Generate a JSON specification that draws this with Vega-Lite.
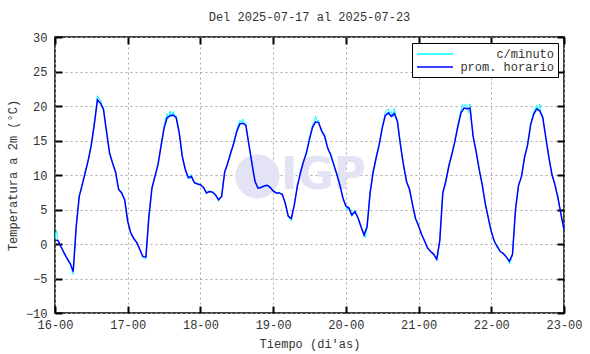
{
  "$schema": "https://vega.github.io/schema/vega-lite/v6.json",
  "width": 509,
  "height": 276,
  "autosize": {"type": "none"},
  "padding": {"left": 55, "top": 37, "right": 26, "bottom": 41},
  "background": "white",
  "title": {"text": "Del 2025-07-17 al 2025-07-23", "font": "Liberation Mono", "fontSize": 12, "fontWeight": "normal", "color": "#333333", "offset": 7},
  "config": {
    "font": "Liberation Mono",
    "view": {"stroke": "#000000", "strokeWidth": 1.5},
    "axis": {"labelFont": "Liberation Mono", "labelFontSize": 12, "labelColor": "#333333", "titleFont": "Liberation Mono", "titleFontSize": 12, "titleFontWeight": "normal", "titleColor": "#333333", "labelFlush": false, "labelOverlap": false, "domain": false},
    "legend": {"orient": "top-right", "offset": 6, "strokeColor": "#000000", "strokeWidth": 1, "fillColor": "#ffffff", "padding": 4, "labelFont": "Liberation Mono", "labelFontSize": 12, "labelColor": "#333333", "symbolType": "M-1,0H5", "symbolSize": 144, "symbolStrokeWidth": 1.5, "labelAlign": "right", "labelOffset": 124, "rowPadding": 0, "title": null}
  },
  "datasets": {
    "hr": [
      {"h":0,"v":0.6},{"h":1,"v":0.5},{"h":2,"v":-0.4},{"h":3,"v":-1.3},{"h":4,"v":-2.1},{"h":5,"v":-2.8},{"h":6,"v":-4.0},{"h":7,"v":2.5},{"h":8,"v":6.9},{"h":9,"v":8.6},{"h":10,"v":10.4},{"h":11,"v":12.2},{"h":12,"v":14.4},{"h":13,"v":17.4},{"h":14,"v":20.9},{"h":15,"v":20.4},{"h":16,"v":19.5},{"h":17,"v":16.3},{"h":18,"v":13.2},{"h":19,"v":11.7},{"h":20,"v":10.4},{"h":21,"v":7.9},{"h":22,"v":7.4},{"h":23,"v":6.4},
      {"h":24,"v":3.3},{"h":25,"v":1.6},{"h":26,"v":0.8},{"h":27,"v":0.2},{"h":28,"v":-0.8},{"h":29,"v":-1.8},{"h":30,"v":-1.9},{"h":31,"v":4.0},{"h":32,"v":8.1},{"h":33,"v":9.8},{"h":34,"v":11.5},{"h":35,"v":14.2},{"h":36,"v":16.8},{"h":37,"v":18.3},{"h":38,"v":18.6},{"h":39,"v":18.7},{"h":40,"v":18.3},{"h":41,"v":16.1},{"h":42,"v":12.7},{"h":43,"v":10.8},{"h":44,"v":9.6},{"h":45,"v":9.8},{"h":46,"v":8.9},{"h":47,"v":8.7},
      {"h":48,"v":8.6},{"h":49,"v":8.2},{"h":50,"v":7.4},{"h":51,"v":7.6},{"h":52,"v":7.5},{"h":53,"v":7.1},{"h":54,"v":6.4},{"h":55,"v":6.9},{"h":56,"v":10.4},{"h":57,"v":11.7},{"h":58,"v":13.2},{"h":59,"v":14.6},{"h":60,"v":16.3},{"h":61,"v":17.4},{"h":62,"v":17.5},{"h":63,"v":17.2},{"h":64,"v":14.4},{"h":65,"v":11.7},{"h":66,"v":9.1},{"h":67,"v":8.1},{"h":68,"v":8.2},{"h":69,"v":8.4},{"h":70,"v":8.5},{"h":71,"v":8.2},
      {"h":72,"v":7.7},{"h":73,"v":7.4},{"h":74,"v":7.4},{"h":75,"v":7.2},{"h":76,"v":5.9},{"h":77,"v":4.0},{"h":78,"v":3.7},{"h":79,"v":5.7},{"h":80,"v":8.4},{"h":81,"v":10.3},{"h":82,"v":11.9},{"h":83,"v":13.2},{"h":84,"v":15.2},{"h":85,"v":16.9},{"h":86,"v":17.7},{"h":87,"v":17.6},{"h":88,"v":16.4},{"h":89,"v":15.6},{"h":90,"v":13.9},{"h":91,"v":12.9},{"h":92,"v":11.5},{"h":93,"v":10.1},{"h":94,"v":8.6},{"h":95,"v":6.7},
      {"h":96,"v":5.5},{"h":97,"v":5.2},{"h":98,"v":4.2},{"h":99,"v":4.7},{"h":100,"v":3.8},{"h":101,"v":2.5},{"h":102,"v":1.3},{"h":103,"v":2.5},{"h":104,"v":7.4},{"h":105,"v":10.4},{"h":106,"v":12.5},{"h":107,"v":14.4},{"h":108,"v":16.8},{"h":109,"v":18.6},{"h":110,"v":19.0},{"h":111,"v":18.5},{"h":112,"v":18.9},{"h":113,"v":17.8},{"h":114,"v":14.4},{"h":115,"v":11.5},{"h":116,"v":9.1},{"h":117,"v":7.9},{"h":118,"v":5.7},{"h":119,"v":3.7},
      {"h":120,"v":2.6},{"h":121,"v":1.4},{"h":122,"v":0.4},{"h":123,"v":-0.6},{"h":124,"v":-1.1},{"h":125,"v":-1.5},{"h":126,"v":-2.2},{"h":127,"v":0.5},{"h":128,"v":7.4},{"h":129,"v":9.1},{"h":130,"v":11.3},{"h":131,"v":13.0},{"h":132,"v":14.9},{"h":133,"v":17.1},{"h":134,"v":19.0},{"h":135,"v":19.7},{"h":136,"v":19.6},{"h":137,"v":19.7},{"h":138,"v":15.6},{"h":139,"v":13.4},{"h":140,"v":10.8},{"h":141,"v":8.6},{"h":142,"v":5.9},{"h":143,"v":3.8},
      {"h":144,"v":1.8},{"h":145,"v":0.4},{"h":146,"v":-0.4},{"h":147,"v":-1.1},{"h":148,"v":-1.4},{"h":149,"v":-1.9},{"h":150,"v":-2.5},{"h":151,"v":-1.5},{"h":152,"v":5.0},{"h":153,"v":8.5},{"h":154,"v":9.8},{"h":155,"v":12.6},{"h":156,"v":14.4},{"h":157,"v":17.3},{"h":158,"v":18.8},{"h":159,"v":19.6},{"h":160,"v":19.3},{"h":161,"v":18.3},{"h":162,"v":15.4},{"h":163,"v":12.6},{"h":164,"v":10.1},{"h":165,"v":8.6},{"h":166,"v":6.7},{"h":167,"v":4.3},{"h":168,"v":2.1}
    ],
    "mn": [
      {"h":0,"v":0.9},{"h":0.5,"v":2.0},{"h":1,"v":0.4},{"h":1.5,"v":0.2},{"h":2,"v":-0.5},{"h":2.5,"v":-0.8},{"h":3,"v":-1.4},{"h":3.5,"v":-1.8},{"h":4,"v":-2.2},{"h":4.5,"v":-2.6},{"h":5,"v":-3.0},{"h":5.5,"v":-3.5},{"h":6,"v":-4.4},{"h":6.5,"v":-1.0},{"h":7,"v":2.7},{"h":7.5,"v":4.9},{"h":8,"v":7.1},{"h":8.5,"v":7.6},{"h":9,"v":8.8},{"h":9.5,"v":9.4},{"h":10,"v":10.6},{"h":10.5,"v":11.2},{"h":11,"v":12.4},{"h":11.5,"v":13.2},{"h":12,"v":14.7},{"h":12.5,"v":15.8},{"h":13,"v":17.7},{"h":13.5,"v":19.3},{"h":14,"v":21.5},{"h":14.5,"v":21.0},{"h":15,"v":20.9},{"h":15.5,"v":20.1},{"h":16,"v":19.8},{"h":16.5,"v":18.0},{"h":17,"v":16.5},{"h":17.5,"v":14.8},{"h":18,"v":13.4},{"h":18.5,"v":12.5},{"h":19,"v":11.9},{"h":19.5,"v":11.0},{"h":20,"v":10.6},{"h":20.5,"v":9.0},{"h":21,"v":8.1},{"h":21.5,"v":7.6},{"h":22,"v":7.6},{"h":22.5,"v":6.8},{"h":23,"v":6.6},{"h":23.5,"v":4.8},
      {"h":24,"v":3.4},{"h":24.5,"v":2.4},{"h":25,"v":1.7},{"h":25.5,"v":1.1},{"h":26,"v":0.9},{"h":26.5,"v":0.4},{"h":27,"v":0.3},{"h":27.5,"v":-0.3},{"h":28,"v":-0.9},{"h":28.5,"v":-1.3},{"h":29,"v":-2.0},{"h":29.5,"v":-2.2},{"h":30,"v":-2.1},{"h":30.5,"v":1.0},{"h":31,"v":4.1},{"h":31.5,"v":6.0},{"h":32,"v":8.3},{"h":32.5,"v":8.9},{"h":33,"v":10.0},{"h":33.5,"v":10.6},{"h":34,"v":11.7},{"h":34.5,"v":12.9},{"h":35,"v":14.5},{"h":35.5,"v":15.6},{"h":36,"v":17.1},{"h":36.5,"v":18.1},{"h":37,"v":18.9},{"h":37.5,"v":18.2},{"h":38,"v":19.3},{"h":38.5,"v":18.4},{"h":39,"v":19.2},{"h":39.5,"v":18.6},{"h":40,"v":18.6},{"h":40.5,"v":17.4},{"h":41,"v":16.3},{"h":41.5,"v":14.6},{"h":42,"v":12.9},{"h":42.5,"v":11.6},{"h":43,"v":11.0},{"h":43.5,"v":10.0},{"h":44,"v":9.8},{"h":44.5,"v":9.4},{"h":45,"v":10.1},{"h":45.5,"v":9.2},{"h":46,"v":9.0},{"h":46.5,"v":8.8},{"h":47,"v":8.9},{"h":47.5,"v":8.6},
      {"h":48,"v":8.7},{"h":48.5,"v":8.4},{"h":49,"v":8.3},{"h":49.5,"v":7.9},{"h":50,"v":7.3},{"h":50.5,"v":7.6},{"h":51,"v":7.7},{"h":51.5,"v":7.5},{"h":52,"v":7.6},{"h":52.5,"v":7.2},{"h":53,"v":7.2},{"h":53.5,"v":6.7},{"h":54,"v":6.2},{"h":54.5,"v":6.7},{"h":55,"v":7.0},{"h":55.5,"v":8.8},{"h":56,"v":10.6},{"h":56.5,"v":11.0},{"h":57,"v":11.9},{"h":57.5,"v":12.5},{"h":58,"v":13.5},{"h":58.5,"v":13.8},{"h":59,"v":14.9},{"h":59.5,"v":15.6},{"h":60,"v":16.6},{"h":60.5,"v":17.3},{"h":61,"v":17.9},{"h":61.5,"v":17.6},{"h":62,"v":18.1},{"h":62.5,"v":17.5},{"h":63,"v":17.6},{"h":63.5,"v":15.8},{"h":64,"v":14.6},{"h":64.5,"v":13.1},{"h":65,"v":11.9},{"h":65.5,"v":10.4},{"h":66,"v":9.2},{"h":66.5,"v":8.6},{"h":67,"v":8.2},{"h":67.5,"v":8.2},{"h":68,"v":8.3},{"h":68.5,"v":8.3},{"h":69,"v":8.5},{"h":69.5,"v":8.4},{"h":70,"v":8.6},{"h":70.5,"v":8.3},{"h":71,"v":8.3},{"h":71.5,"v":7.9},
      {"h":72,"v":7.8},{"h":72.5,"v":7.5},{"h":73,"v":7.5},{"h":73.5,"v":7.3},{"h":74,"v":7.5},{"h":74.5,"v":7.3},{"h":75,"v":7.3},{"h":75.5,"v":6.5},{"h":76,"v":6.0},{"h":76.5,"v":4.9},{"h":77,"v":4.0},{"h":77.5,"v":3.6},{"h":78,"v":3.4},{"h":78.5,"v":4.6},{"h":79,"v":5.8},{"h":79.5,"v":7.1},{"h":80,"v":8.6},{"h":80.5,"v":9.3},{"h":81,"v":10.5},{"h":81.5,"v":11.2},{"h":82,"v":12.1},{"h":82.5,"v":12.7},{"h":83,"v":13.5},{"h":83.5,"v":14.3},{"h":84,"v":15.5},{"h":84.5,"v":16.3},{"h":85,"v":17.3},{"h":85.5,"v":17.7},{"h":86,"v":18.5},{"h":86.5,"v":17.9},{"h":87,"v":17.9},{"h":87.5,"v":17.0},{"h":88,"v":16.6},{"h":88.5,"v":16.0},{"h":89,"v":15.8},{"h":89.5,"v":14.7},{"h":90,"v":14.1},{"h":90.5,"v":13.4},{"h":91,"v":13.1},{"h":91.5,"v":12.2},{"h":92,"v":11.7},{"h":92.5,"v":10.8},{"h":93,"v":10.3},{"h":93.5,"v":9.4},{"h":94,"v":8.8},{"h":94.5,"v":7.7},{"h":95,"v":6.9},{"h":95.5,"v":6.0},
      {"h":96,"v":5.4},{"h":96.5,"v":4.9},{"h":97,"v":5.4},{"h":97.5,"v":4.7},{"h":98,"v":4.0},{"h":98.5,"v":4.7},{"h":99,"v":4.9},{"h":99.5,"v":4.2},{"h":100,"v":3.9},{"h":100.5,"v":3.1},{"h":101,"v":2.6},{"h":101.5,"v":2.0},{"h":102,"v":1.3},{"h":102.5,"v":0.9},{"h":103,"v":2.6},{"h":103.5,"v":5.0},{"h":104,"v":7.6},{"h":104.5,"v":8.9},{"h":105,"v":10.6},{"h":105.5,"v":11.4},{"h":106,"v":12.7},{"h":106.5,"v":13.4},{"h":107,"v":14.6},{"h":107.5,"v":15.7},{"h":108,"v":17.0},{"h":108.5,"v":17.9},{"h":109,"v":19.1},{"h":109.5,"v":19.4},{"h":110,"v":19.6},{"h":110.5,"v":18.8},{"h":111,"v":19.2},{"h":111.5,"v":18.4},{"h":112,"v":19.7},{"h":112.5,"v":18.6},{"h":113,"v":18.0},{"h":113.5,"v":16.2},{"h":114,"v":14.6},{"h":114.5,"v":13.0},{"h":115,"v":11.7},{"h":115.5,"v":10.3},{"h":116,"v":9.3},{"h":116.5,"v":8.4},{"h":117,"v":8.1},{"h":117.5,"v":6.9},{"h":118,"v":5.9},{"h":118.5,"v":4.6},{"h":119,"v":3.5},{"h":119.5,"v":3.4},
      {"h":120,"v":2.7},{"h":120.5,"v":1.9},{"h":121,"v":1.3},{"h":121.5,"v":0.9},{"h":122,"v":0.5},{"h":122.5,"v":-0.1},{"h":123,"v":-0.7},{"h":123.5,"v":-0.8},{"h":124,"v":-1.2},{"h":124.5,"v":-1.3},{"h":125,"v":-1.6},{"h":125.5,"v":-1.8},{"h":126,"v":-2.4},{"h":126.5,"v":-1.2},{"h":127,"v":0.6},{"h":127.5,"v":4.2},{"h":128,"v":7.6},{"h":128.5,"v":8.2},{"h":129,"v":9.3},{"h":129.5,"v":10.3},{"h":130,"v":11.5},{"h":130.5,"v":12.2},{"h":131,"v":13.2},{"h":131.5,"v":14.0},{"h":132,"v":15.1},{"h":132.5,"v":16.2},{"h":133,"v":17.3},{"h":133.5,"v":18.3},{"h":134,"v":19.4},{"h":134.5,"v":20.2},{"h":135,"v":19.9},{"h":135.5,"v":20.3},{"h":136,"v":19.8},{"h":136.5,"v":19.0},{"h":137,"v":20.3},{"h":137.5,"v":17.6},{"h":138,"v":15.8},{"h":138.5,"v":14.5},{"h":139,"v":13.6},{"h":139.5,"v":12.1},{"h":140,"v":11.0},{"h":140.5,"v":9.7},{"h":141,"v":8.8},{"h":141.5,"v":7.2},{"h":142,"v":6.1},{"h":142.5,"v":4.8},{"h":143,"v":4.0},{"h":143.5,"v":2.7},
      {"h":144,"v":1.9},{"h":144.5,"v":1.1},{"h":145,"v":0.5},{"h":145.5,"v":0.0},{"h":146,"v":-0.3},{"h":146.5,"v":-0.8},{"h":147,"v":-1.2},{"h":147.5,"v":-1.2},{"h":148,"v":-1.5},{"h":148.5,"v":-1.6},{"h":149,"v":-2.0},{"h":149.5,"v":-2.2},{"h":150,"v":-2.9},{"h":150.5,"v":-2.3},{"h":151,"v":-1.6},{"h":151.5,"v":1.9},{"h":152,"v":5.4},{"h":152.5,"v":6.8},{"h":153,"v":8.5},{"h":153.5,"v":9.1},{"h":154,"v":10.0},{"h":154.5,"v":11.3},{"h":155,"v":12.8},{"h":155.5,"v":13.5},{"h":156,"v":14.6},{"h":156.5,"v":15.9},{"h":157,"v":17.5},{"h":157.5,"v":18.3},{"h":158,"v":19.2},{"h":158.5,"v":19.5},{"h":159,"v":20.1},{"h":159.5,"v":19.3},{"h":160,"v":20.3},{"h":160.5,"v":18.9},{"h":161,"v":18.5},{"h":161.5,"v":16.8},{"h":162,"v":15.6},{"h":162.5,"v":14.0},{"h":163,"v":12.8},{"h":163.5,"v":11.3},{"h":164,"v":10.3},{"h":164.5,"v":9.3},{"h":165,"v":8.8},{"h":165.5,"v":7.6},{"h":166,"v":6.9},{"h":166.5,"v":5.4},{"h":167,"v":4.5},{"h":167.5,"v":3.1},{"h":168,"v":2.2}
    ],
    "logo": [{"name": "IGP"}]
  },
  "resolve": {"axis": {"x": "independent", "y": "independent"}},
  "layer": [
    {
      "data": {"name": "logo"},
      "mark": {"type": "point", "filled": true, "color": "#e3e3f5", "opacity": 1, "size": 1960},
      "encoding": {
        "x": {"datum": 66.8, "type": "quantitative", "scale": {"domain": [0, 168], "nice": false, "zero": false}, "axis": null},
        "y": {"datum": 9.8, "type": "quantitative", "scale": {"domain": [-10, 30], "nice": false}, "axis": null}
      }
    },
    {
      "data": {"name": "logo"},
      "mark": {"type": "text", "font": "DejaVu Sans", "fontWeight": "bold", "fontSize": 44, "color": "#e3e3f5", "align": "center", "baseline": "middle"},
      "encoding": {
        "x": {"datum": 88.6, "type": "quantitative", "axis": null},
        "y": {"datum": 9.9, "type": "quantitative", "axis": null},
        "text": {"field": "name"}
      }
    },
    {
      "data": {"name": "mn"},
      "mark": {"type": "line", "strokeWidth": 1, "interpolate": "linear"},
      "encoding": {
        "x": {"field": "h", "type": "quantitative", "axis": {"orient": "top", "values": [0, 24, 48, 72, 96, 120, 144, 168], "labels": false, "grid": false, "title": null, "tickSize": -7, "tickColor": "#000000", "tickWidth": 2}},
        "y": {"field": "v", "type": "quantitative", "axis": {"orient": "right", "values": [-10, -5, 0, 5, 10, 15, 20, 25, 30], "labels": false, "grid": false, "title": null, "tickSize": -7, "tickColor": "#000000", "tickWidth": 2}},
        "color": {"datum": "c/minuto", "type": "nominal", "scale": {"domain": ["c/minuto", "prom. horario"], "range": ["#00ffff", "#0000ff"]}}
      }
    },
    {
      "data": {"name": "hr"},
      "mark": {"type": "line", "strokeWidth": 1.5, "interpolate": "linear"},
      "encoding": {
        "x": {"field": "h", "type": "quantitative", "axis": {"orient": "bottom", "values": [0, 24, 48, 72, 96, 120, 144, 168], "labelExpr": "(16 + datum.value / 24) + '-00'", "title": "Tiempo (di'as)", "grid": true, "gridDash": [2, 3], "gridColor": "#a8a8a8", "labelPadding": 13, "titlePadding": 8, "tickSize": -7, "tickColor": "#000000", "tickWidth": 2}},
        "y": {"field": "v", "type": "quantitative", "axis": {"orient": "left", "values": [-10, -5, 0, 5, 10, 15, 20, 25, 30], "title": "Temperatura a 2m (°C)", "grid": true, "gridDash": [2, 3], "gridColor": "#a8a8a8", "labelPadding": 15, "titlePadding": 6, "tickSize": -7, "tickColor": "#000000", "tickWidth": 2}},
        "color": {"datum": "prom. horario", "type": "nominal"}
      }
    }
  ]
}
